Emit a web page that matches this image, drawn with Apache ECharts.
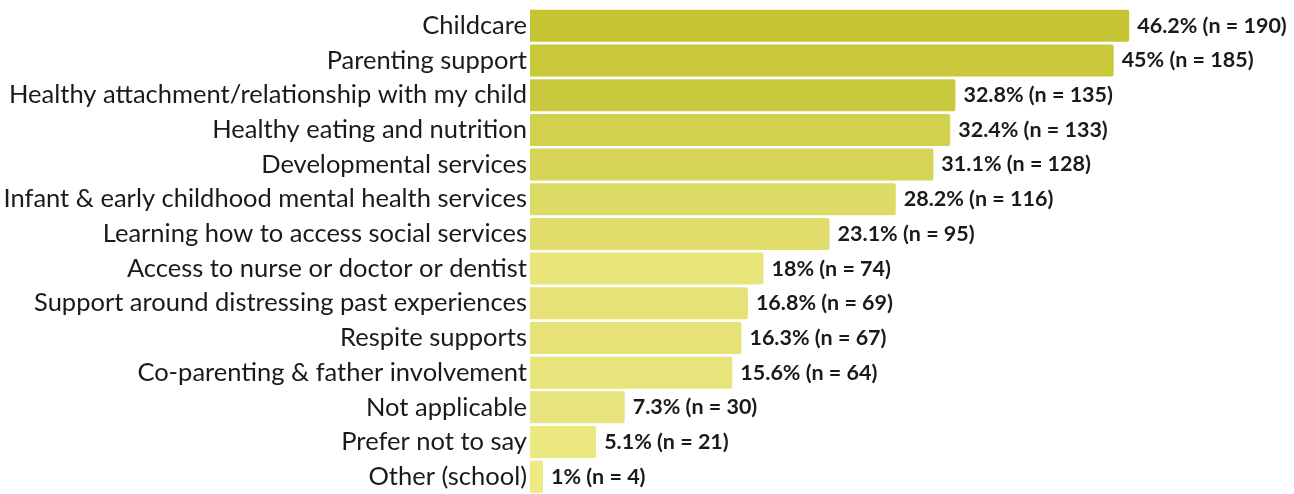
<!DOCTYPE html>
<html>
<head>
<meta charset="utf-8">
<script src="https://cdn.jsdelivr.net/npm/echarts@6/dist/echarts.min.js"></script>
<style>
  html, body { margin: 0; padding: 0; background: #ffffff; }
  #chart { width: 1294px; height: 494px; }
</style>
</head>
<body>
<div id="chart"></div>
<script>
// Services of interest, with share of respondents and counts
const categories = [
  'Childcare',
  'Parenting support',
  'Healthy attachment/relationship with my child',
  'Healthy eating and nutrition',
  'Developmental services',
  'Infant & early childhood mental health services',
  'Learning how to access social services',
  'Access to nurse or doctor or dentist',
  'Support around distressing past experiences',
  'Respite supports',
  'Co-parenting & father involvement',
  'Not applicable',
  'Prefer not to say',
  'Other (school)'
];
const percents = [46.2, 45, 32.8, 32.4, 31.1, 28.2, 23.1, 18, 16.8, 16.3, 15.6, 7.3, 5.1, 1];
const counts = [190, 185, 135, 133, 128, 116, 95, 74, 69, 67, 64, 30, 21, 4];

// Olive-to-pale-yellow shading, one per row
const barShades = [
  '#c5c433', '#c9c83a', '#c9c93e', '#d2d04f', '#d6d457', '#dcdb65', '#e0dd6d',
  '#e9e57a', '#e6e277', '#e6e278', '#e8e47c', '#e8e47d', '#ece880', '#eee983'
];

const chart = echarts.init(document.getElementById('chart'), null, { renderer: 'canvas' });

chart.setOption({
  animation: false,
  backgroundColor: '#ffffff',
  grid: { left: 530, top: 8.5, width: 648.5, height: 488.6, containLabel: false },
  xAxis: {
    type: 'value', min: 0, max: 50, show: false
  },
  yAxis: {
    type: 'category',
    data: categories,
    inverse: true,
    axisLine: { show: false },
    axisTick: { show: false },
    axisLabel: {
      margin: 3,
      color: '#1a1a1a',
      fontFamily: 'Lato',
      fontSize: 25.5
    }
  },
  series: [{
    type: 'bar',
    data: percents.map((v, i) => ({ value: v, itemStyle: { color: barShades[i] } })),
    barWidth: 32,
    itemStyle: { borderRadius: [0, 2, 2, 0] },
    label: {
      show: true,
      position: 'right',
      distance: 8,
      color: '#1a1a1a',
      fontFamily: 'Lato',
      fontWeight: 'bold',
      fontSize: 21.5,
      formatter: p => percents[p.dataIndex] + '% (n = ' + counts[p.dataIndex] + ')'
    }
  }]
});
</script>
</body>
</html>
